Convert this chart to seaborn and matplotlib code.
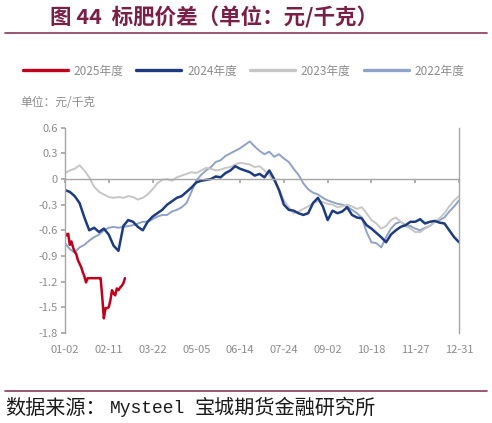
import numpy as np
import pandas as pd
import matplotlib
matplotlib.use("Agg")
import matplotlib.pyplot as plt
from matplotlib.lines import Line2D
from matplotlib.ticker import FuncFormatter
import seaborn as sns

# ====================== DATA ======================
tick_labels = ["01-02", "02-11", "03-22", "05-05", "06-14",
               "07-24", "09-02", "10-18", "11-27", "12-31"]
tick_step = 27  # trading days between labelled ticks

# 2025: daily values (trading days from 01-02)
y2025 = [-0.63, -0.66, -0.64, -0.77, -0.73, -0.80, -0.85, -0.88, -0.95, -0.99,
         -1.03, -1.09, -1.14, -1.21, -1.16, -1.16, -1.16, -1.16, -1.16, -1.16,
         -1.16, -1.16, -1.16, -1.38, -1.63, -1.51, -1.51, -1.50, -1.42, -1.30,
         -1.34, -1.36, -1.28, -1.30, -1.27, -1.25, -1.22, -1.16]

# 2024 / 2023 / 2022: one value every 3 trading days
y2024 = [-0.13, -0.15, -0.20, -0.28, -0.45, -0.60, -0.57, -0.62, -0.58, -0.65,
         -0.78, -0.84, -0.55, -0.48, -0.50, -0.56, -0.60, -0.50, -0.44, -0.40,
         -0.36, -0.30, -0.26, -0.22, -0.20, -0.15, -0.10, -0.04, -0.02, -0.01,
         0.00, 0.03, 0.02, 0.07, 0.10, 0.15, 0.12, 0.10, 0.08, 0.04,
         0.06, 0.02, 0.10, 0.00, -0.13, -0.30, -0.36, -0.37, -0.40, -0.42,
         -0.40, -0.28, -0.22, -0.32, -0.48, -0.37, -0.40, -0.38, -0.33, -0.42,
         -0.45, -0.46, -0.54, -0.58, -0.63, -0.68, -0.74, -0.65, -0.60, -0.56,
         -0.54, -0.50, -0.50, -0.47, -0.52, -0.50, -0.49, -0.51, -0.52, -0.60,
         -0.68, -0.74]

y2023 = [0.07, 0.10, 0.12, 0.16, 0.10, 0.02, -0.09, -0.15, -0.18, -0.21,
         -0.22, -0.21, -0.22, -0.20, -0.21, -0.24, -0.22, -0.18, -0.12, -0.05,
         -0.01, 0.00, -0.02, 0.02, 0.04, 0.06, 0.08, 0.07, 0.10, 0.13,
         0.12, 0.10, 0.11, 0.13, 0.14, 0.17, 0.19, 0.18, 0.17, 0.14,
         0.15, 0.10, 0.05, -0.02, -0.12, -0.25, -0.33, -0.40, -0.38, -0.35,
         -0.32, -0.28, -0.26, -0.27, -0.29, -0.30, -0.33, -0.32, -0.30, -0.32,
         -0.35, -0.33, -0.40, -0.48, -0.52, -0.58, -0.55, -0.48, -0.45, -0.50,
         -0.55, -0.58, -0.62, -0.62, -0.58, -0.55, -0.50, -0.46, -0.40, -0.32,
         -0.25, -0.20]

y2022 = [-0.75, -0.82, -0.86, -0.80, -0.77, -0.72, -0.68, -0.65, -0.60, -0.57,
         -0.56, -0.57, -0.56, -0.55, -0.54, -0.52, -0.50, -0.50, -0.47, -0.44,
         -0.42, -0.42, -0.38, -0.36, -0.33, -0.28, -0.15, -0.02, 0.05, 0.10,
         0.14, 0.20, 0.22, 0.27, 0.30, 0.33, 0.36, 0.40, 0.44, 0.38,
         0.33, 0.29, 0.32, 0.26, 0.29, 0.24, 0.20, 0.12, 0.05, -0.05,
         -0.12, -0.16, -0.18, -0.22, -0.25, -0.27, -0.29, -0.30, -0.32, -0.36,
         -0.40, -0.45, -0.62, -0.74, -0.75, -0.80, -0.68, -0.58, -0.52, -0.50,
         -0.54, -0.55, -0.58, -0.60, -0.57, -0.55, -0.50, -0.48, -0.45, -0.38,
         -0.32, -0.25]

# ====================== STYLE ======================
sns.set_theme(style="white")
plt.rcParams["font.family"] = ["Noto Sans CJK SC", "DejaVu Sans"]
plt.rcParams["axes.unicode_minus"] = False

grey_txt = "#8c8c8c"
grey_axis = "#a6a6a6"
maroon = "#7a1f47"

fig = plt.figure(figsize=(4.92, 4.23), dpi=100)
ax = fig.add_axes([0.132, 0.213, 0.801, 0.485])


def to_frame(vals, step, name):
    return pd.DataFrame({"day": np.arange(len(vals)) * step,
                         "value": vals, "year": name})


# drawn back to front
series = [
    (y2022, 3, "2022年度", "#8fa2c9", 1.4),
    (y2023, 3, "2023年度", "#c6c6c6", 1.4),
    (y2024, 3, "2024年度", "#1d3b80", 1.8),
    (y2025, 1, "2025年度", "#c0001b", 1.8),
]
handles = []
for vals, step, name, color, lw in series:
    sns.lineplot(data=to_frame(vals, step, name), x="day", y="value",
                 color=color, lw=lw, ax=ax, legend=False)
    handles.append(Line2D([], [], color=color, lw=2.4, label=name))

# ====================== AXES ======================
n_days = tick_step * (len(tick_labels) - 1)
ax.set_xlim(0, n_days)
ax.set_ylim(-1.8, 0.6)
ax.set_xlabel("")
ax.set_ylabel("")

ax.spines["top"].set_visible(False)
ax.spines["bottom"].set_position(("data", 0))
for s in ["left", "right", "bottom"]:
    ax.spines[s].set_color(grey_axis)
    ax.spines[s].set_linewidth(1.0)

ticks = np.arange(0, n_days + 1, tick_step)
ax.set_xticks(ticks)
ax.tick_params(axis="x", bottom=True, direction="out", length=3,
               color=grey_axis, labelbottom=False)
ax.set_yticks(np.arange(-1.8, 0.61, 0.3))
ax.yaxis.set_major_formatter(FuncFormatter(
    lambda v, p: "0" if abs(v) < 1e-9 else f"{v:.1f}"))
ax.tick_params(axis="y", left=True, direction="out", length=3,
               color=grey_axis, labelsize=8, labelcolor=grey_txt, pad=2)

sec = ax.secondary_xaxis("bottom")
sec.set_xticks(ticks, labels=tick_labels)
sec.tick_params(length=0, labelsize=8, labelcolor=grey_txt, pad=9)
sec.spines["bottom"].set_visible(False)

# ====================== TEXT ======================
fig.legend(handles=handles[::-1], loc="center", bbox_to_anchor=(0.495, 0.832),
           ncol=4, frameon=False, fontsize=8.5, handlelength=3.8,
           columnspacing=1.1, handletextpad=0.5, labelcolor=grey_txt)

fig.text(20 / 492, 1 - 102 / 423, "单位：元/千克", fontsize=8.5,
         color=grey_txt, va="center", ha="left")

fig.text(50 / 492, 1 - 17 / 423, "图 44  标肥价差（单位：元/千克）",
         fontsize=15.5, fontweight="bold", color=maroon, va="center", ha="left")
fig.add_artist(Line2D([5 / 492, 487 / 492], [1 - 33 / 423] * 2,
                      transform=fig.transFigure, color="#8a3a5e", lw=1.2))
fig.add_artist(Line2D([5 / 492, 487 / 492], [1 - 391 / 423] * 2,
                      transform=fig.transFigure, color="#8a3a5e", lw=1.2))

# footer: CJK parts plus a monospaced "Mysteel"
foot_y = 1 - 408 / 423
fig.text(5 / 492, foot_y, "数据来源：", fontsize=14.5, color="#1a1a1a",
         va="center", ha="left")
fig.text(110 / 492, foot_y, "Mysteel", fontsize=13, color="#1a1a1a",
         va="center", ha="left", family=["Liberation Mono", "DejaVu Sans Mono"])
fig.text(195 / 492, foot_y, "宝城期货金融研究所", fontsize=14.5, color="#1a1a1a",
         va="center", ha="left")

fig.savefig("out.png", dpi=100)
